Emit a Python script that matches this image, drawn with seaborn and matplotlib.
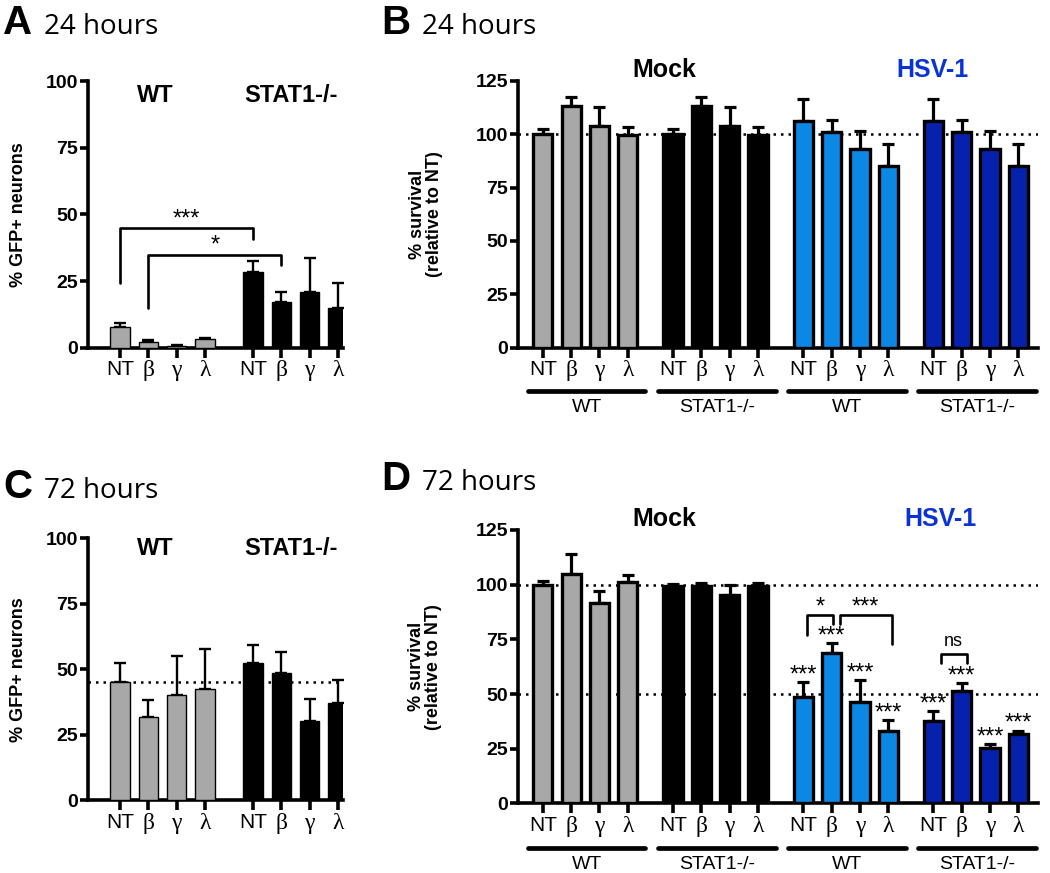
import numpy as np
import pandas as pd
import matplotlib
matplotlib.use('Agg')
import matplotlib.pyplot as plt
import seaborn as sns

sns.set_style('ticks')
plt.rcParams['font.family'] = ['Liberation Sans', 'DejaVu Sans']
plt.rcParams['text.color'] = 'black'
plt.rcParams['axes.labelcolor'] = 'black'
plt.rcParams['axes.edgecolor'] = 'black'
plt.rcParams['xtick.color'] = 'black'
plt.rcParams['ytick.color'] = 'black'

# ---------------------------------------------------- data

treat = ['NT', 'β', 'γ', 'λ']
genotype = ['WT', 'STAT1-/-']

# A: 24 h, % GFP+ neurons
a_wt = [8.0, 2.2, 0.7, 3.2]
a_wt_err = [1.3, 0.8, 0.3, 0.6]
a_ko = [28.3, 17.1, 21.1, 15.1]
a_ko_err = [4.4, 3.8, 12.7, 9.2]

# C: 72 h, % GFP+ neurons
c_wt = [45.0, 31.6, 40.2, 42.4]
c_wt_err = [7.2, 6.6, 14.9, 15.2]
c_ko = [52.2, 48.6, 30.1, 37.0]
c_ko_err = [7.2, 7.8, 8.5, 8.7]

# B: 24 h, % survival
b_mock_wt = [100.0, 113.0, 104.0, 99.5]
b_mock_wt_err = [2.3, 4.3, 8.8, 3.9]
b_mock_ko = [100.0, 113.0, 104.0, 99.5]
b_mock_ko_err = [2.3, 4.3, 8.8, 3.9]
b_hsv_wt = [106.0, 101.2, 93.2, 85.0]
b_hsv_wt_err = [10.3, 5.3, 8.5, 10.6]
b_hsv_ko = [106.0, 101.2, 93.2, 85.0]
b_hsv_ko_err = [10.3, 5.3, 8.5, 10.6]

# D: 72 h, % survival
d_mock_wt = [100.0, 105.0, 91.5, 101.0]
d_mock_wt_err = [1.5, 9.2, 5.5, 3.2]
d_mock_ko = [99.5, 99.3, 95.5, 99.3]
d_mock_ko_err = [0.6, 1.6, 4.5, 1.6]
d_hsv_wt = [48.7, 68.8, 46.2, 33.2]
d_hsv_wt_err = [6.7, 4.4, 10.0, 5.0]
d_hsv_ko = [37.8, 51.5, 25.3, 31.8]
d_hsv_ko_err = [4.2, 3.6, 2.0, 1.5]

gray = '#a8a8a8'
black = '#000000'
lblue = '#0a88e4'
dblue = '#0622ac'
hsv_color = '#0a33d6'


def draw_bars(ax, groups, colors, gap, edge_lw, err_lw):
    rows = []
    for g, (vals, errs) in enumerate(groups):
        for i in range(len(vals)):
            rows.append({'pos': g * gap + i, 'val': vals[i], 'err': errs[i],
                         'grp': 'g%d' % g, 'lab': treat[i]})
    df = pd.DataFrame(rows)
    pal = {'g%d' % g: colors[g] for g in range(len(groups))}
    sns.barplot(data=df, x='pos', y='val', hue='grp', palette=pal, native_scale=True,
                dodge=False, width=0.68, edgecolor='black', linewidth=edge_lw,
                errorbar=None, legend=False, saturation=1, ax=ax, zorder=3)
    ax.errorbar(df['pos'], df['val'], yerr=[np.zeros(len(df)), df['err']], fmt='none',
                ecolor='black', elinewidth=err_lw, capsize=4.5, capthick=err_lw, zorder=2)
    ax.set_xticks(df['pos'])
    ax.set_xticklabels(df['lab'])
    for lab in ax.get_xticklabels():
        if lab.get_text() == 'NT':
            lab.set_family('Liberation Sans')
            lab.set_fontsize(15)
        else:
            lab.set_family('Liberation Serif')
            lab.set_fontsize(17)
    return df


def style_axis(ax, ymax, step):
    sns.despine(ax=ax)
    ax.spines['left'].set_linewidth(2.6)
    ax.spines['bottom'].set_linewidth(2.6)
    ax.set_ylim(0, ymax)
    ax.set_yticks(np.arange(0, ymax + 1, step))
    ax.tick_params(axis='y', length=6, width=2.6, labelsize=14, pad=1)
    ax.tick_params(axis='x', length=7, width=2.6, pad=2)
    for lab in ax.get_yticklabels():
        lab.set_fontweight('bold')
    ax.set_xlabel('')


def bracket(ax, x0, x1, y, y0, y1, text, ty, size=17):
    ax.plot([x0, x0, x1, x1], [y0, y, y, y1], color='black', lw=1.9, clip_on=False, zorder=4)
    ax.text((x0 + x1) / 2, ty, text, ha='center', va='center', fontsize=size)


def under_lines(ax, gap, n):
    tr = ax.get_xaxis_transform()
    for g in range(n):
        ax.plot([g * gap - 0.53, g * gap + 3.62], [-0.162, -0.162], transform=tr,
                color='black', lw=3.4, solid_capstyle='round', clip_on=False)
        ax.text(g * gap + 1.55, -0.192, genotype[g % 2], transform=tr, ha='center',
                va='top', fontsize=14)


fig = plt.figure(figsize=(10.5, 8.73), dpi=100)

# ---------------------------------------------------- A
ax_a = fig.add_axes([0.0838, 0.6014, 0.2429, 0.3058])
draw_bars(ax_a, [(a_wt, a_wt_err), (a_ko, a_ko_err)], [gray, black], 4.7, 1.0, 1.7)
style_axis(ax_a, 100, 25)
ax_a.set_xlim(-1.13, 7.88)
ax_a.set_ylabel('% GFP+ neurons', fontsize=13, fontweight='bold')
ax_a.yaxis.set_label_coords(-0.24, 0.5)
ax_a.text(1.25, 94.5, 'WT', ha='center', va='center', fontsize=17, fontweight='bold')
ax_a.text(6.05, 94.5, 'STAT1-/-', ha='center', va='center', fontsize=17, fontweight='bold')
bracket(ax_a, 0, 4.7, 45, 24.5, 41, '***', 48)
bracket(ax_a, 1, 5.7, 35, 15, 31, '*', 38.5)

# ---------------------------------------------------- C
ax_c = fig.add_axes([0.0838, 0.0836, 0.2429, 0.2998])
ax_c.axhline(45, ls=(0, (1, 2)), color='black', lw=1.8, zorder=1)
draw_bars(ax_c, [(c_wt, c_wt_err), (c_ko, c_ko_err)], [gray, black], 4.7, 1.0, 1.7)
style_axis(ax_c, 100, 25)
ax_c.set_xlim(-1.13, 7.88)
ax_c.set_ylabel('% GFP+ neurons', fontsize=13, fontweight='bold')
ax_c.yaxis.set_label_coords(-0.24, 0.5)
ax_c.text(1.25, 96, 'WT', ha='center', va='center', fontsize=17, fontweight='bold')
ax_c.text(6.05, 96, 'STAT1-/-', ha='center', va='center', fontsize=17, fontweight='bold')

# ---------------------------------------------------- B
ax_b = fig.add_axes([0.4933, 0.6017, 0.4952, 0.3058])
ax_b.axhline(100, ls=(0, (1, 2)), color='black', lw=1.8, zorder=1)
draw_bars(ax_b, [(b_mock_wt, b_mock_wt_err), (b_mock_ko, b_mock_ko_err),
                 (b_hsv_wt, b_hsv_wt_err), (b_hsv_ko, b_hsv_ko_err)],
          [gray, black, lblue, dblue], 4.6, 2.4, 2.3)
style_axis(ax_b, 125, 25)
ax_b.set_xlim(-0.88, 17.49)
ax_b.set_ylabel('% survival\n(relative to NT)', fontsize=13, fontweight='bold', linespacing=1.0)
ax_b.yaxis.set_label_coords(-0.144, 0.5)
ax_b.text(4.3, 130, 'Mock', ha='center', va='center', fontsize=18, fontweight='bold', clip_on=False)
ax_b.text(13.75, 130, 'HSV-1', ha='center', va='center', fontsize=18, fontweight='bold',
          color=hsv_color, clip_on=False)
under_lines(ax_b, 4.6, 4)

# ---------------------------------------------------- D
ax_d = fig.add_axes([0.4933, 0.0798, 0.4952, 0.3131])
ax_d.axhline(100, ls=(0, (1, 2)), color='black', lw=1.8, zorder=1)
ax_d.axhline(50, ls=(0, (1, 2)), color='black', lw=1.8, zorder=1)
df_d = draw_bars(ax_d, [(d_mock_wt, d_mock_wt_err), (d_mock_ko, d_mock_ko_err),
                        (d_hsv_wt, d_hsv_wt_err), (d_hsv_ko, d_hsv_ko_err)],
                 [gray, black, lblue, dblue], 4.6, 2.4, 2.3)
style_axis(ax_d, 125, 25)
ax_d.set_xlim(-0.88, 17.49)
ax_d.set_ylabel('% survival\n(relative to NT)', fontsize=13, fontweight='bold', linespacing=1.0)
ax_d.yaxis.set_label_coords(-0.146, 0.5)
ax_d.text(4.3, 130, 'Mock', ha='center', va='center', fontsize=18, fontweight='bold', clip_on=False)
ax_d.text(14.05, 130, 'HSV-1', ha='center', va='center', fontsize=18, fontweight='bold',
          color=hsv_color, clip_on=False)
under_lines(ax_d, 4.6, 4)

# stars above every infected bar
hsv = df_d[df_d['grp'].isin(['g2', 'g3'])]
for _, r in hsv.iterrows():
    ax_d.text(r['pos'], r['val'] + r['err'] + 3.0, '***', ha='center', va='center', fontsize=17)

bracket(ax_d, 9.34, 10.26, 86, 77, 82, '*', 89.5)
bracket(ax_d, 10.49, 12.32, 86, 82, 72.7, '***', 89.5)
bracket(ax_d, 14.05, 14.97, 68.2, 64, 64, 'ns', 74, size=13)

# ---------------------------------------------------- panel titles
for x, y, letter, label in [(3, 34, 'A', '24 hours'), (381, 34, 'B', '24 hours'),
                            (3, 498, 'C', '72 hours'), (381, 490, 'D', '72 hours')]:
    fig.text(x / 1050, 1 - y / 873, letter, fontsize=29, fontweight='bold', va='baseline')
    fig.text((x + 41) / 1050, 1 - y / 873, label, fontsize=20, family='Open Sans', va='baseline')

plt.savefig('out.png', dpi=100)
